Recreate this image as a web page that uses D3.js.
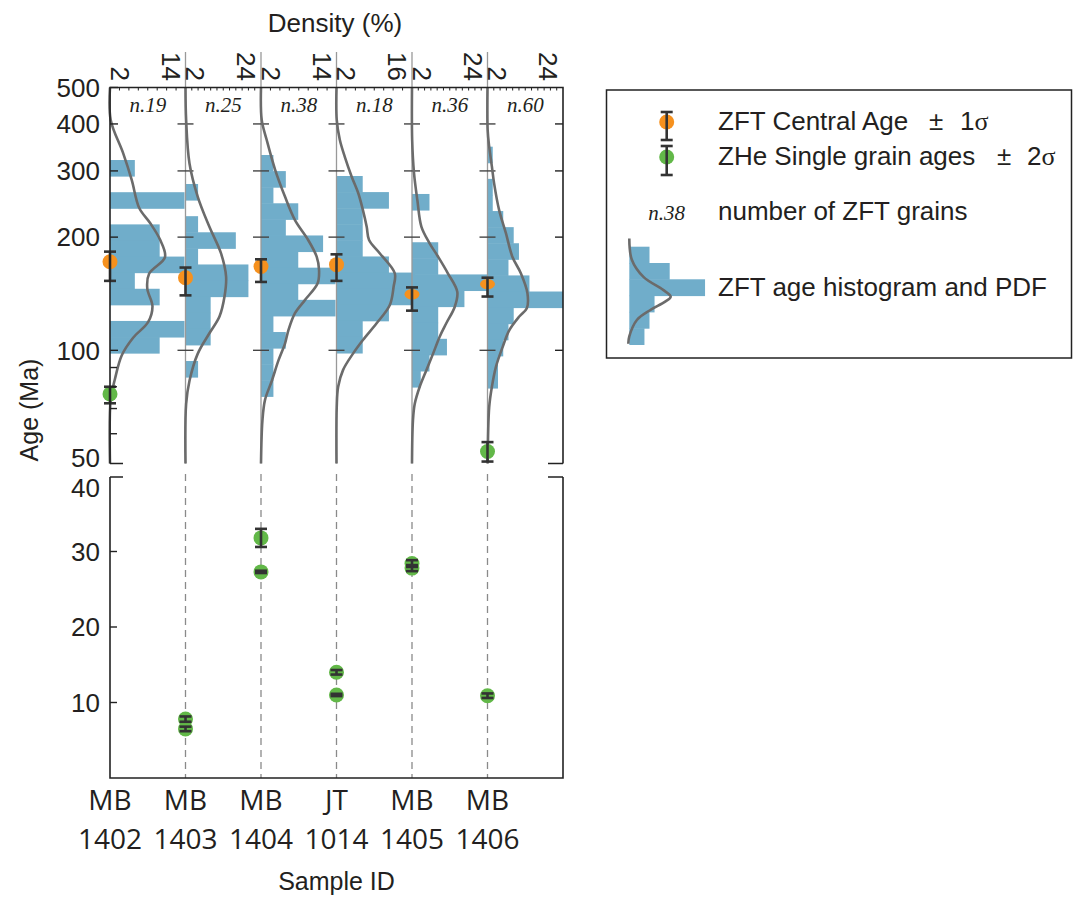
<!DOCTYPE html>
<html><head><meta charset="utf-8">
<script src="https://cdn.jsdelivr.net/npm/d3@7/dist/d3.min.js"></script>
<style>body{margin:0;background:#fff} svg{display:block}</style>
</head><body>
<svg id="c" width="1073" height="901"></svg>
<script>
// ---------------- DATA ----------------
const sampleCodes = ["MB","MB","MB","JT","MB","MB"];
const sampleNums  = ["1402","1403","1404","1014","1405","1406"];
const grainCounts = [19,25,38,18,36,60];
const densityMax  = [16,24,16,16,24,24];
const densityTickLabels = [["2","14"],["2","24"],["2","14"],["2","16"],["2","24"],["2","24"]];

// histogram: upper edge age of first bin (Ma), log10 bin width, grain counts per bin (old -> young)
const histTopAge = [320.7,276.9,330.7,290.8,260.5,348];
const histBinLog = 0.0428;
const histCounts = [
  [1,0,3,0,2,2,3,1,2,0,3,2],
  [1,0,1,4,1,5,5,2,2,2,0,1],
  [1,2,1,3,2,5,3,6,3,6,1,2,1,1,1],
  [1,2,1,1,1,2,3,3,2,1,1],
  [2,0,0,3,3,9,6,3,3,4,2,1],
  [1,0,1,1,3,5,6,4,8,15,5,4,3,2,2]
];

// PDF curves: [age (Ma), density (%)]
const pdf1402 = [[500,0],[410,0.15],[334,2.8],[284,4.6],[239,6.2],[218,8.5],[197,10.6],[177,11.65],[160,8.3],[146,7.9],[131,9.0],[119,8.1],[108,4.9],[97,2.5],[84,1.06],[74,0.15],[50,0]];
const pdf1403 = [[500,0],[410,0.2],[314,1.27],[256,3.9],[213,7.6],[181,11.3],[157,12.9],[139,12.4],[123,10.8],[111,7.6],[98,3.9],[83,1.27],[72,0.2],[50,0]];
const pdf1404 = [[500,0],[410,0.15],[363,1.2],[302,3.0],[256,5.1],[222,7.2],[196.5,10.0],[177.4,11.8],[163.6,12.3],[150.8,12.0],[136,9.3],[125.5,7.2],[113,5.8],[104.4,5.1],[94,3.7],[83,2.3],[73.8,0.85],[65,0.3],[50,0]];
const pdf1014 = [[500,0],[410,0.05],[363,0.7],[327,1.76],[290,3.2],[262,4.6],[236,5.6],[213,6.4],[196.5,6.9],[181,9.2],[160.3,12.35],[147.6,12.1],[132,11.3],[118,8.5],[106.5,5.6],[98,3.5],[88.7,1.4],[80,0.35],[70.6,0.05],[50,0]];
const pdf1405 = [[500,0],[363,0.05],[296,0.64],[251,1.7],[213,3.0],[192.6,5.6],[177.4,8.3],[160.3,11.4],[143,14.4],[130.6,13.6],[118,10.9],[108.7,8.8],[98,6.7],[88.7,4.6],[80,2.45],[72,0.86],[65,0.3],[50,0]];
const pdf1406 = [[500,0],[385,0.05],[348,0.54],[308,1.4],[278,2.1],[236,3.7],[205,5.85],[177.4,7.9],[160.3,10.6],[141.8,12.7],[129.4,12.5],[123,10.1],[113,6.9],[102,4.8],[90.5,2.7],[80,1.4],[70.6,0.54],[50,0.05]];
const pdfs = [pdf1402,pdf1403,pdf1404,pdf1014,pdf1405,pdf1406];

// ZFT central ages ±1σ
const zftAge = [172,156,167,169,141,150];
const zftLo  = [153,140,152,153,127.5,139];
const zftHi  = [183,166,174.6,180,147,156];

// ZHe single grain ages ±2σ (upper, log panel)
const zheOldSample = [0,5];
const zheOldAge = [76.5,53.8];
const zheOldLo  = [72.3,50.6];
const zheOldHi  = [80,57];

// ZHe single grain ages ±2σ (lower, linear panel)
const zheYoungSample = [1,1,2,2,3,3,4,4,5];
const zheYoungAge = [7.8,6.5,31.8,27.3,14.0,11.0,28.4,27.8,10.9];
const zheYoungErr = [0.35,0.3,1.2,0.15,0.3,0.15,0.45,0.4,0.3];

const upperTicks = [50,100,200,300,400,500];
const upperCrossTicks = [100,200,300,400];
const upperMinorTicks = [60,70,80,90];
const lowerTicks = [10,20,30,40];

// legend glyph data
const legendHist = [4,8,15,5,4,3];
const legendPdf = [[-0.5,0],[0.8,0.5],[1.85,2.8],[2.65,6.7],[3.07,8.2],[3.37,7.1],[3.9,4.1],[4.5,1.5],[5.5,0],[5.95,-0.2]];

// ---------------- STYLE ----------------
const BLUE = "#70adca", ORANGE = "#f6911e", GREEN = "#62b848", DARK = "#333", TXT = "#231f20";
const SANS = "'Liberation Sans', Arial, Helvetica, sans-serif";
const SERIF = "'Liberation Serif', 'Times New Roman', serif";
const squashed = new Set(["1405","1406"]);

const svg = d3.select("#c");
const L = 110, R = 563;
const x = d3.scaleBand().domain(sampleNums).range([L, R]).paddingInner(0).paddingOuter(0);
const bw = x.bandwidth();
const yU = d3.scaleLog().domain([50,500]).range([463.5, 87.5]);
const yL = d3.scaleLinear().domain([0,40]).range([778, 476]);
const dens = densityMax.map(m => d3.scaleLinear().domain([0,m]).range([0,bw]));

svg.append("defs").append("clipPath").attr("id","clipU")
  .append("rect").attr("x",L).attr("y",yU(500)).attr("width",R-L).attr("height",yU(50)-yU(500));

// ---------- histograms ----------
const gH = svg.append("g").attr("clip-path","url(#clipU)");
sampleNums.forEach((s,i) => {
  const x0 = x(s);
  const bins = histCounts[i].map((c,k) => {
    const top = histTopAge[i] / Math.pow(10, k*histBinLog);
    const bot = top / Math.pow(10, histBinLog);
    return {top, bot, c};
  }).filter(b => b.c > 0);
  gH.selectAll(null).data(bins).enter().append("rect")
    .attr("x", x0)
    .attr("y", b => yU(b.top))
    .attr("height", b => yU(b.bot) - yU(b.top) + 0.5)
    .attr("width", b => dens[i](b.c / grainCounts[i] * 100))
    .attr("fill", BLUE);
});

// ---------- column lines ----------
sampleNums.forEach((s,i) => {
  if (i === 0) return;
  svg.append("line").attr("x1",x(s)).attr("x2",x(s)).attr("y1",52).attr("y2",yU(50))
    .attr("stroke","#999").attr("stroke-width",1.3);
  svg.append("line").attr("x1",x(s)).attr("x2",x(s)).attr("y1",474).attr("y2",yL(0))
    .attr("stroke","#8a8a8a").attr("stroke-width",1.3).attr("stroke-dasharray","7,5");
  svg.selectAll(null).data(upperCrossTicks).enter().append("line")
    .attr("x1",x(s)-8).attr("x2",x(s)+8).attr("y1",d=>yU(d)).attr("y2",d=>yU(d))
    .attr("stroke","#444").attr("stroke-width",1.4);
});

// ---------- PDF curves ----------
sampleNums.forEach((s,i) => {
  const line = d3.line().x(d => x(s) + dens[i](d[1])).y(d => yU(d[0])).curve(d3.curveCatmullRom.alpha(0.5));
  svg.append("path").attr("d", line(pdfs[i])).attr("fill","none")
    .attr("stroke","#6b6b6b").attr("stroke-width",2.6);
});

// ---------- error bar helper ----------
function errBar(g, cx, y1, y2) {
  g.append("line").attr("x1",cx).attr("x2",cx).attr("y1",y1).attr("y2",y2).attr("stroke",DARK).attr("stroke-width",2.6);
  [y1,y2].forEach(yy => g.append("line").attr("x1",cx-6).attr("x2",cx+6).attr("y1",yy).attr("y2",yy)
    .attr("stroke",DARK).attr("stroke-width",2.6));
}
const gP = svg.append("g");
sampleNums.forEach((s,i) => {
  gP.append("ellipse").attr("cx",x(s)).attr("cy",yU(zftAge[i]))
    .attr("rx",7.5).attr("ry", squashed.has(s) ? 5.2 : 7.5).attr("fill",ORANGE);
});
sampleNums.forEach((s,i) => errBar(gP, x(s), yU(zftHi[i]), yU(zftLo[i])));
zheOldSample.forEach((si,k) => {
  gP.append("circle").attr("cx",x(sampleNums[si])).attr("cy",yU(zheOldAge[k])).attr("r",7.5).attr("fill",GREEN);
});
zheOldSample.forEach((si,k) => errBar(gP, x(sampleNums[si]), yU(zheOldHi[k]), yU(zheOldLo[k])));
zheYoungSample.forEach((si,k) => {
  gP.append("circle").attr("cx",x(sampleNums[si])).attr("cy",yL(zheYoungAge[k])).attr("r",7.5).attr("fill",GREEN);
});
zheYoungSample.forEach((si,k) => errBar(gP, x(sampleNums[si]), yL(zheYoungAge[k]+zheYoungErr[k]), yL(zheYoungAge[k]-zheYoungErr[k])));

// ---------- frames ----------
const fr = svg.append("g").attr("stroke","#222").attr("stroke-width",1.6).attr("fill","none");
fr.append("path").attr("d",`M${L},${yU(50)}V${yU(500)}H${R}V${yU(50)}`);
fr.append("path").attr("d",`M${L},${yU(50)}h13M${R},${yU(50)}h-15`);
fr.append("path").attr("d",`M${L},477V${yL(0)}H${R}V477`);
fr.append("path").attr("d",`M${L},477h13M${R},477h-15`);

const tk = svg.append("g").attr("stroke","#222").attr("stroke-width",1.4);
tk.selectAll(null).data(upperCrossTicks.concat([500])).enter().append("line")
  .attr("x1",L).attr("x2",L+8).attr("y1",d=>yU(d)).attr("y2",d=>yU(d));
tk.selectAll(null).data(upperMinorTicks).enter().append("line")
  .attr("x1",L).attr("x2",L+7).attr("y1",d=>yU(d)).attr("y2",d=>yU(d));
tk.selectAll(null).data(upperCrossTicks).enter().append("line")
  .attr("x1",R).attr("x2",R-8).attr("y1",d=>yU(d)).attr("y2",d=>yU(d));
tk.selectAll(null).data(lowerTicks.slice(0,3)).enter().append("line")
  .attr("x1",L).attr("x2",L+7).attr("y1",d=>yL(d)).attr("y2",d=>yL(d));
sampleNums.forEach((s,i) => {
  const vals = d3.range(2, densityMax[i], 2);
  tk.selectAll(null).data(vals).enter().append("line")
    .attr("x1",d=>x(s)+dens[i](d)).attr("x2",d=>x(s)+dens[i](d))
    .attr("y1",yU(500)).attr("y2",yU(500)+3).attr("stroke-width",1);
});

// ---------- texts ----------
const T = svg.append("g").attr("fill",TXT).attr("font-family",SANS);
T.selectAll(null).data(upperTicks).enter().append("text")
  .attr("x",100).attr("y",d=>yU(d) + (d===50 ? -6 : 0)).attr("dy","0.36em")
  .attr("text-anchor","end").attr("font-size",26).text(d=>d);
T.selectAll(null).data(lowerTicks).enter().append("text")
  .attr("x",100).attr("y",d=>yL(d) + (d===40 ? 12 : 0)).attr("dy","0.36em")
  .attr("text-anchor","end").attr("font-size",26).text(d=>d);
T.append("text").attr("transform","translate(29,410) rotate(-90)").attr("dy","0.36em")
  .attr("text-anchor","middle").attr("font-size",25).text("Age (Ma)");
T.append("text").attr("x",335).attr("y",32).attr("text-anchor","middle").attr("font-size",26).text("Density (%)");
sampleNums.forEach((s,i) => {
  const offs = [10, 61];
  densityTickLabels[i].forEach((lab,j) => {
    T.append("text").attr("transform",`translate(${x(s)+offs[j]},81) rotate(90)`)
      .attr("dy","0.36em").attr("text-anchor","end").attr("font-size",26).text(lab);
  });
});
T.selectAll(null).data(sampleNums).enter().append("text")
  .attr("x",d=>x(d)+bw/2).attr("y",112).attr("text-anchor","middle")
  .attr("font-family",SERIF).attr("font-style","italic").attr("font-size",21)
  .text((d,i)=>"n."+grainCounts[i]);
const SL = svg.append("g").attr("fill",TXT).attr("font-family","'Open Sans', sans-serif").attr("font-size",28).attr("text-anchor","middle");
SL.selectAll(null).data(sampleCodes).enter().append("text").attr("x",(d,i)=>x(sampleNums[i])).attr("y",810).text(d=>d);
SL.selectAll(null).data(sampleNums).enter().append("text").attr("x",d=>x(d)).attr("y",849).text(d=>d);
T.append("text").attr("x",336.5).attr("y",890).attr("text-anchor","middle").attr("font-size",25).text("Sample ID");

// ---------- legend ----------
const lg = svg.append("g");
lg.append("rect").attr("x",606.5).attr("y",90).attr("width",465).attr("height",268)
  .attr("fill","#fff").attr("stroke","#222").attr("stroke-width",1.5);
lg.append("circle").attr("cx",666.7).attr("cy",122).attr("r",7.5).attr("fill",ORANGE);
errBar(lg, 666.7, 112, 140);
lg.append("circle").attr("cx",666.7).attr("cy",157).attr("r",7.5).attr("fill",GREEN);
errBar(lg, 666.7, 146, 175);
const lt = lg.append("g").attr("fill",TXT).attr("font-family",SANS).attr("font-size",26);
const t1 = lt.append("text").attr("x",718).attr("y",129.5);
t1.append("tspan").text("ZFT Central Age");
t1.append("tspan").attr("x",929).text("±");
t1.append("tspan").attr("x",960).text("1");
t1.append("tspan").attr("font-family",SERIF).text("σ");
const t2 = lt.append("text").attr("x",718).attr("y",164.5);
t2.append("tspan").text("ZHe Single grain ages");
t2.append("tspan").attr("x",997).text("±");
t2.append("tspan").attr("x",1027).text("2");
t2.append("tspan").attr("font-family",SERIF).text("σ");
lt.append("text").attr("x",718).attr("y",219.5).text("number of ZFT grains");
lt.append("text").attr("x",718).attr("y",296).text("ZFT age histogram and PDF");
lg.append("text").attr("x",666.7).attr("y",220).attr("text-anchor","middle").attr("fill",TXT)
  .attr("font-family",SERIF).attr("font-style","italic").attr("font-size",21).text("n.38");
const lx = d3.scaleLinear().domain([0,1]).range([629.3,634.35]);
const ly = d3.scaleLinear().domain([0,1]).range([246.7,263]);
lg.selectAll(null).data(legendHist).enter().append("rect")
  .attr("x",lx(0)).attr("y",(d,k)=>ly(k)).attr("height",ly(1)-ly(0)+0.5)
  .attr("width",d=>lx(d)-lx(0)).attr("fill",BLUE);
lg.append("path").attr("d", d3.line().x(d=>lx(d[1])).y(d=>ly(d[0])).curve(d3.curveCatmullRom.alpha(0.5))(legendPdf))
  .attr("fill","none").attr("stroke","#6b6b6b").attr("stroke-width",2.6);
</script>
</body></html>
